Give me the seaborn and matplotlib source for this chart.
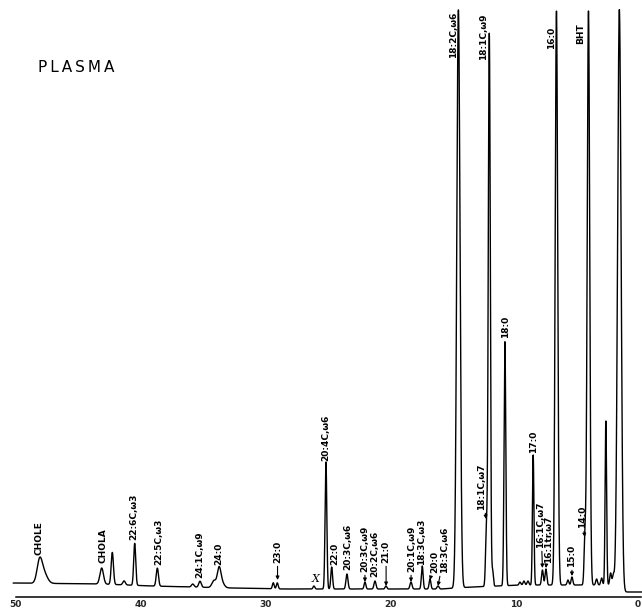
import numpy as np
import pandas as pd
import matplotlib
matplotlib.use("Agg")
import matplotlib.pyplot as plt
import seaborn as sns

# Retention times (min), peak heights above baseline (chart units) and peak widths (sigma, min)
peak_time = [48.09, 47.77, 43.12, 42.27, 41.33, 40.48, 38.67, 35.84, 35.26, 34.14,
             33.74, 33.55, 29.40, 29.08, 26.15, 25.19, 24.73, 23.51, 22.07, 21.27,
             20.39, 18.39, 17.49, 16.87, 16.23, 14.60, 12.36, 12.13, 11.86, 10.88,
             9.68, 9.36, 9.04, 8.62, 7.88, 7.60, 6.76, 5.84, 5.52, 4.48,
             4.20, 3.55, 3.15, 2.81, 2.43, 2.21, 1.73]
peak_height = [20, 11, 16, 32, 4, 42, 18, 3, 6, 7,
               17, 6, 6, 6, 3, 127, 22, 15, 7, 8,
               3, 7, 23, 10, 3, 578, 55, 553, 15, 244,
               3, 4, 4, 130, 15, 16, 574, 5, 8, 47,
               574, 6, 7, 164, 12, 10, 577]
peak_width = [0.20, 0.28, 0.14, 0.09, 0.10, 0.08, 0.09, 0.10, 0.10, 0.16,
              0.14, 0.20, 0.07, 0.07, 0.07, 0.07, 0.07, 0.08, 0.07, 0.08,
              0.07, 0.08, 0.07, 0.07, 0.08, 0.13, 0.07, 0.08, 0.06, 0.07,
              0.07, 0.07, 0.07, 0.06, 0.07, 0.07, 0.10, 0.07, 0.07, 0.07,
              0.10, 0.07, 0.07, 0.06, 0.07, 0.07, 0.14]

# Baseline drift of the recorder trace
baseline_time = [50.3, 43.1, 39.1, 32.7, 28.5, 16.0, 13.5, 9.5, 1.8, 1.5, -0.2]
baseline_level = [2, 1, -1, -3, -4, -4, -2, 0, 0, -7, -7]

# Peak identifications
label_names = ["CHOLE", "CHOLA", "22:6C,\u03c93", "22:5C,\u03c93", "24:1C,\u03c99", "24:0",
               "23:0", "20:4C,\u03c96", "22:0", "20:3C,\u03c96", "20:3C,\u03c99", "20:2C,\u03c96",
               "21:0", "20:1C,\u03c99", "18:3C,\u03c93", "20:0", "18:3C,\u03c96", "18:2C,\u03c96",
               "18:1C,\u03c99", "18:1C,\u03c97", "18:0", "17:0", "16:1C,\u03c97", "16:1tr,\u03c97",
               "15:0", "14:0", "16:0", "BHT"]

# Label placement: (time, level, vertical anchor, arrow target time, arrow target level)
label_layout = [
    (48.13, 30, "bottom", None, None),
    (43.05, 22, "bottom", None, None),
    (40.54, 45, "bottom", None, None),
    (38.58, 20, "bottom", None, None),
    (35.26, 7, "bottom", None, None),
    (33.74, 20, "bottom", None, None),
    (29.06, 22, "bottom", 29.06, 5),
    (25.19, 124, "bottom", None, None),
    (24.47, 20, "bottom", None, None),
    (23.47, 15, "bottom", None, None),
    (22.07, 13, "bottom", 22.07, 3),
    (21.26, 8, "bottom", None, None),
    (20.38, 22, "bottom", 20.38, -1),
    (18.36, 13, "bottom", 18.39, 3),
    (17.51, 20, "bottom", None, None),
    (16.51, 12, "bottom", 16.87, 5),
    (15.67, 12, "bottom", 16.23, -1),
    (15.00, 573, "top", None, None),
    (12.56, 572, "top", None, None),
    (12.76, 75, "bottom", 12.38, 66),
    (10.84, 247, "bottom", None, None),
    (8.60, 132, "bottom", None, None),
    (8.00, 37, "bottom", 7.88, 17),
    (7.40, 22, "bottom", 7.60, 17),
    (5.52, 18, "bottom", 5.52, 9),
    (4.68, 57, "bottom", 4.50, 48),
    (7.16, 558, "top", None, None),
    (4.85, 562, "top", None, None),
]

# Build the detector trace
t = np.linspace(50.2, -0.1, 12000)
signal = np.interp(t, baseline_time[::-1], baseline_level[::-1])
for t0, h, w in zip(peak_time, peak_height, peak_width):
    signal = signal + h * np.exp(-0.5 * ((t - t0) / w) ** 2)
trace = pd.DataFrame({"time": t, "signal": signal})

sns.set_theme(style="white")
plt.rcParams["font.family"] = ["DejaVu Sans"]

fig = plt.figure(figsize=(6.42, 6.11), dpi=100)
ax = fig.add_axes([0, 0, 1, 1])
sns.lineplot(data=trace, x="time", y="signal", ax=ax, color="black",
             linewidth=1.0, sort=False, estimator=None)

ax.set_xlim(51.25, -0.08)
ax.set_ylim(-26, 585)
ax.set_xlabel("")
ax.set_ylabel("")
ax.set_yticks([])

for side in ["top", "right", "left"]:
    ax.spines[side].set_visible(False)
ax.spines["bottom"].set_position(("data", -12))
ax.spines["bottom"].set_bounds(0, 50)
ax.spines["bottom"].set_color("black")
ax.spines["bottom"].set_linewidth(1.1)
ax.set_xticks([50, 40, 30, 20, 10, 0])
ax.set_xticklabels(["50", "40", "30", "20", "10", "0"])
ax.tick_params(axis="x", direction="in", length=4, width=1, color="black",
               pad=2, labelsize=6.5)
for lab in ax.get_xticklabels():
    lab.set_fontweight("bold")
# keep the last tick label inside the figure edge
ax.get_xticklabels()[-1].set_horizontalalignment("right")

for name, (lt, ls, va, at, als) in zip(label_names, label_layout):
    if at is None:
        ax.text(lt, ls, name, rotation=90, ha="center", va=va, fontsize=6.5,
                fontweight="bold", color="black")
    else:
        ax.annotate(name, xy=(at, als), xytext=(lt, ls), rotation=90,
                    ha="center", va=va, fontsize=6.5, fontweight="bold", color="black",
                    arrowprops=dict(arrowstyle="-|>", color="black", lw=0.8,
                                    mutation_scale=5, shrinkA=0, shrinkB=0))

ax.text(26.05, 6, "X", ha="center", va="center", fontsize=8, style="italic",
        family="DejaVu Serif", color="black")

fig.text(38 / 642, 1 - 67 / 611, "\u2009".join("PLASMA"), ha="left", va="center",
         fontsize=11, color="black")

fig.savefig("out.png", dpi=100, facecolor="white")
